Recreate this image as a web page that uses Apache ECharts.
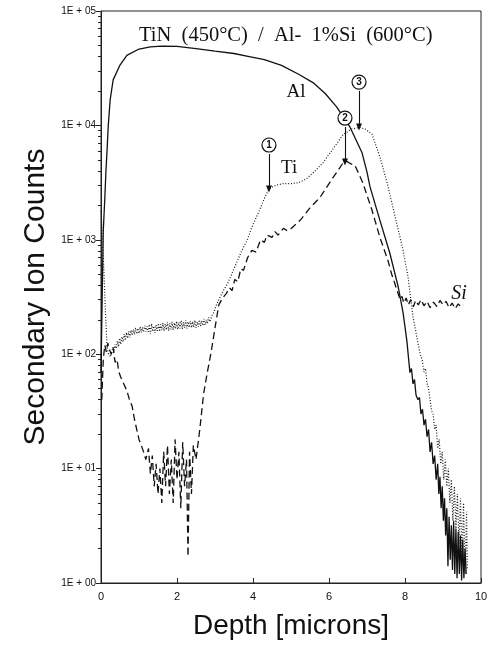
<!DOCTYPE html>
<html>
<head>
<meta charset="utf-8">
<script src="https://cdn.jsdelivr.net/npm/echarts@6/dist/echarts.min.js"></script>
<style>
  html, body { margin: 0; padding: 0; background: #fff; }
  #chart { width: 498px; height: 649px; }
</style>
</head>
<body>
<div id="chart"></div>
<script>
// Depth profile: [depth (microns), secondary ion counts]
const alProfile = [
  [0.00, 70], [0.03, 300], [0.06, 1200], [0.10, 2300], [0.13, 4000], [0.16, 6100],
  [0.19, 9800], [0.24, 16600], [0.32, 25000], [0.50, 33700], [0.68, 41000],
  [1.00, 46500], [1.30, 48500], [1.60, 49400], [2.00, 49000], [2.50, 46800],
  [3.00, 44500], [3.50, 42500], [3.90, 40000], [4.30, 37500], [4.75, 33500],
  [5.20, 28000], [5.60, 23400], [5.90, 19000], [6.20, 14500], [6.40, 11500],
  [6.55, 9700], [6.70, 7600], [6.87, 5760], [7.00, 3900], [7.08, 2900],
  [7.34, 1480], [7.60, 767], [7.82, 390], [7.95, 230], [8.05, 130], [8.13, 69],
  [8.17, 75], [8.21, 55], [8.25, 60], [8.29, 44], [8.34, 40], [8.38, 42],
  [8.42, 30], [8.46, 33], [8.50, 24], [8.54, 27], [8.58, 19], [8.62, 22],
  [8.66, 14], [8.70, 17], [8.74, 11], [8.78, 13], [8.82, 8], [8.86, 11],
  [8.89, 6], [8.92, 8.5], [8.95, 4.5], [8.98, 7], [9.01, 3.5], [9.04, 5.5],
  [9.07, 2.6], [9.10, 4.5], [9.13, 1.4], [9.16, 3.8], [9.19, 1.6], [9.22, 3.2],
  [9.25, 1.3], [9.28, 3.5], [9.31, 1.2], [9.34, 3.0], [9.37, 1.1], [9.40, 2.8],
  [9.43, 1.2], [9.46, 2.6], [9.49, 1.05], [9.52, 2.4], [9.55, 1.1], [9.58, 2.0],
  [9.61, 1.2]
];

const tiProfile = [
  [0.00, 1800], [0.04, 1000], [0.08, 500], [0.12, 220], [0.16, 115], [0.20, 100],
  [0.25, 95], [0.30, 110], [0.34, 104], [0.37, 122], [0.40, 112], [0.43, 130],
  [0.46, 116], [0.49, 138], [0.52, 122], [0.55, 142], [0.58, 128], [0.61, 150],
  [0.64, 132], [0.67, 155], [0.70, 138], [0.73, 158], [0.76, 140], [0.79, 162],
  [0.82, 146], [0.85, 165], [0.88, 148], [0.91, 170], [0.94, 150], [0.97, 168],
  [1.00, 152], [1.03, 174], [1.06, 155], [1.09, 172], [1.12, 156], [1.15, 178],
  [1.18, 158], [1.21, 175], [1.24, 157], [1.27, 182], [1.30, 150], [1.33, 185],
  [1.36, 158], [1.39, 176], [1.42, 154], [1.45, 180], [1.48, 160], [1.51, 186],
  [1.54, 158], [1.57, 182], [1.60, 162], [1.63, 188], [1.66, 160], [1.69, 184],
  [1.72, 163], [1.75, 190], [1.78, 160], [1.81, 186], [1.84, 165], [1.87, 192],
  [1.90, 163], [1.93, 188], [1.96, 166], [1.99, 194], [2.02, 165], [2.05, 190],
  [2.08, 168], [2.11, 196], [2.14, 166], [2.17, 190], [2.20, 170], [2.23, 198],
  [2.26, 168], [2.29, 192], [2.32, 171], [2.35, 196], [2.38, 170], [2.41, 193],
  [2.44, 172], [2.47, 198], [2.50, 170], [2.53, 192], [2.56, 174], [2.59, 200],
  [2.62, 176], [2.65, 196], [2.68, 178], [2.71, 204], [2.74, 180], [2.77, 200],
  [2.80, 185], [2.83, 210], [2.87, 192], [2.92, 218], [2.97, 232], [3.02, 262],
  [3.08, 290], [3.20, 350], [3.34, 420], [3.50, 560], [3.71, 810], [3.85, 1000],
  [3.97, 1290], [4.15, 1750], [4.30, 2300], [4.42, 2780], [4.60, 3000],
  [4.80, 3100], [5.00, 3100], [5.20, 3150], [5.40, 3400], [5.60, 3900],
  [5.84, 4700], [6.10, 6200], [6.37, 8300], [6.60, 9300], [6.80, 9600],
  [6.95, 9300], [7.13, 8400], [7.34, 5300], [7.53, 3150], [7.74, 1590],
  [7.95, 810], [8.08, 473], [8.21, 213], [8.34, 126], [8.40, 100], [8.45, 90],
  [8.50, 70], [8.54, 75], [8.58, 56], [8.62, 50], [8.66, 40], [8.70, 32],
  [8.74, 30], [8.78, 22], [8.82, 24], [8.86, 15], [8.90, 18], [8.94, 11],
  [8.98, 14], [9.02, 8], [9.06, 12], [9.10, 7], [9.14, 10], [9.18, 5],
  [9.22, 8], [9.26, 3.5], [9.30, 7], [9.34, 3], [9.38, 6], [9.42, 2.2],
  [9.46, 5.5], [9.50, 1.5], [9.54, 5], [9.58, 1.2], [9.62, 4.2], [9.64, 1.3]
];

const siProfile = [
  [0.02, 40], [0.06, 90], [0.10, 120], [0.14, 105], [0.18, 125], [0.22, 110],
  [0.27, 100], [0.32, 115], [0.37, 85], [0.42, 90], [0.47, 70], [0.52, 63],
  [0.60, 55], [0.68, 48], [0.75, 40], [0.82, 35], [0.88, 27], [0.94, 22],
  [1.00, 18], [1.06, 16], [1.12, 14], [1.18, 12], [1.25, 15], [1.30, 9],
  [1.35, 13], [1.40, 7], [1.45, 11], [1.50, 6], [1.55, 10], [1.60, 5],
  [1.65, 14], [1.70, 7], [1.75, 16], [1.80, 6], [1.85, 12], [1.90, 5],
  [1.95, 18], [2.00, 8], [2.05, 14], [2.10, 4.5], [2.15, 17], [2.20, 7],
  [2.25, 12], [2.29, 1.7], [2.33, 14], [2.38, 6], [2.43, 16], [2.50, 12],
  [2.60, 22], [2.70, 45], [2.80, 70], [2.90, 105], [3.00, 170], [3.10, 270],
  [3.20, 310], [3.30, 340], [3.38, 380], [3.45, 360], [3.52, 450], [3.60, 430],
  [3.68, 560], [3.75, 540], [3.86, 700], [3.97, 810], [4.08, 780], [4.20, 1000],
  [4.30, 950], [4.37, 1100], [4.50, 1050], [4.58, 1180], [4.66, 1100],
  [4.80, 1260], [4.90, 1200], [5.00, 1250], [5.24, 1480], [5.50, 1900],
  [5.76, 2340], [6.10, 3470], [6.37, 4700], [6.47, 4850], [6.58, 4600],
  [6.68, 4500], [6.89, 3150], [7.13, 1820], [7.34, 1050], [7.55, 660],
  [7.65, 500], [7.79, 363], [7.87, 300], [7.92, 320], [7.97, 280], [8.03, 310],
  [8.09, 270], [8.15, 300], [8.22, 260], [8.28, 295], [8.35, 270], [8.42, 300],
  [8.50, 265], [8.58, 290], [8.66, 255], [8.75, 285], [8.84, 260], [8.92, 295],
  [9.00, 270], [9.08, 290], [9.16, 255], [9.24, 280], [9.32, 250], [9.40, 275],
  [9.48, 260], [9.53, 270]
];

// Marked positions: circle centre, arrow start and arrow tip (counts) at each depth
const markerLabels = ['1', '2', '3'];
const markerDepth = [4.42, 6.42, 6.79];
const markerCircleCounts = [6740, 11600, 23900];
const markerArrowFrom = [5620, 9680, 20000];
const markerArrowTo = [2780, 4790, 9680];

// Series text labels: [depth, counts]
const seriesLabelNames = ['Al', 'Ti', 'Si'];
const seriesLabelPos = [[5.13, 19600], [4.95, 4250], [9.42, 336]];

const majorTicks = [1, 10, 100, 1000, 10000, 100000];
const minorTicks = [];
for (let d = 1; d < 100000; d *= 10) {
  for (let k = 2; k <= 9; k++) minorTicks.push(d * k);
}

const serif = '"Liberation Serif", "DejaVu Serif", serif';
const sans = '"Liberation Sans", Arial, sans-serif';

const chart = echarts.init(document.getElementById('chart'), null, { renderer: 'canvas' });

function textPoint(name, pos, italic) {
  return {
    coord: pos,
    symbol: 'circle',
    symbolSize: 1,
    itemStyle: { color: 'rgba(0,0,0,0)' },
    label: {
      show: true, position: 'inside', formatter: name,
      fontFamily: serif, fontSize: italic ? 20 : 19,
      fontStyle: italic ? 'italic' : 'normal', color: '#111'
    }
  };
}

const circlePoints = markerLabels.map((t, i) => ({
  coord: [markerDepth[i], markerCircleCounts[i]],
  symbol: 'circle',
  symbolSize: 14,
  itemStyle: { color: '#fff', borderColor: '#111', borderWidth: 1.2 },
  label: {
    show: true, position: 'inside', formatter: t,
    fontFamily: sans, fontSize: 10, fontWeight: 'bold', color: '#111'
  }
}));

const arrowLines = markerLabels.map((t, i) => [
  { coord: [markerDepth[i], markerArrowFrom[i]] },
  { coord: [markerDepth[i], markerArrowTo[i]] }
]);

const option = {
  animation: false,
  backgroundColor: '#fff',
  title: {
    text: 'TiN  (450\u00B0C)  /  Al-  1%Si  (600\u00B0C)',
    left: 134, top: 20,
    textStyle: { fontFamily: serif, fontSize: 20.5, fontWeight: 'normal', color: '#111' }
  },
  grid: {
    left: 101, right: 17, top: 11, bottom: 66,
    show: true, borderColor: '#222', borderWidth: 1, backgroundColor: 'transparent'
  },
  xAxis: {
    type: 'value', min: 0, max: 10, interval: 2,
    name: 'Depth [microns]', nameLocation: 'middle', nameGap: 29,
    nameTextStyle: { fontFamily: sans, fontSize: 28, color: '#111' },
    axisLine: { lineStyle: { color: '#222', width: 1 } },
    axisTick: { inside: true, length: 5, lineStyle: { color: '#222' } },
    axisLabel: { fontFamily: sans, fontSize: 11, color: '#111', margin: 8 },
    splitLine: { show: false }
  },
  yAxis: [
    {
      type: 'log', logBase: 10, min: 1, max: 100000,
      name: 'Secondary Ion Counts', nameLocation: 'middle', nameGap: 47,
      nameTextStyle: { fontFamily: sans, fontSize: 30, color: '#111' },
      axisLine: { show: true, lineStyle: { color: '#222', width: 1 } },
      axisTick: { show: true, length: 5, customValues: majorTicks, lineStyle: { color: '#222' } },
      axisLabel: {
        fontFamily: sans, fontSize: 10, color: '#111', margin: 5,
        customValues: majorTicks,
        formatter: v => '1E + 0' + Math.round(Math.log10(v))
      },
      splitLine: { show: false }
    },
    {
      type: 'log', logBase: 10, min: 1, max: 100000, position: 'left',
      axisLine: { show: false },
      axisTick: { show: true, length: 3, customValues: minorTicks, lineStyle: { color: '#222' } },
      axisLabel: { show: false },
      splitLine: { show: false }
    }
  ],
  series: [
    {
      name: 'Al', type: 'line', data: alProfile, showSymbol: false, symbol: 'none',
      lineStyle: { color: '#111', width: 1.3, type: 'solid' },
      markPoint: { silent: true, data: [textPoint(seriesLabelNames[0], seriesLabelPos[0], false)] }
    },
    {
      name: 'Ti', type: 'line', data: tiProfile, showSymbol: false, symbol: 'none',
      lineStyle: { color: '#1a1a1a', width: 1.2, type: [1, 1.8] },
      markPoint: { silent: true, data: [textPoint(seriesLabelNames[1], seriesLabelPos[1], false)] }
    },
    {
      name: 'Si', type: 'line', data: siProfile, showSymbol: false, symbol: 'none',
      lineStyle: { color: '#111', width: 1.3, type: [7, 4] },
      markLine: {
        silent: true, symbol: ['none', 'triangle'], symbolSize: [6, 7],
        lineStyle: { color: '#111', width: 1.1, type: 'solid' },
        label: { show: false },
        data: arrowLines
      },
      markPoint: {
        silent: true,
        data: circlePoints.concat([textPoint(seriesLabelNames[2], seriesLabelPos[2], true)])
      }
    }
  ]
};

chart.setOption(option);
</script>
</body>
</html>
